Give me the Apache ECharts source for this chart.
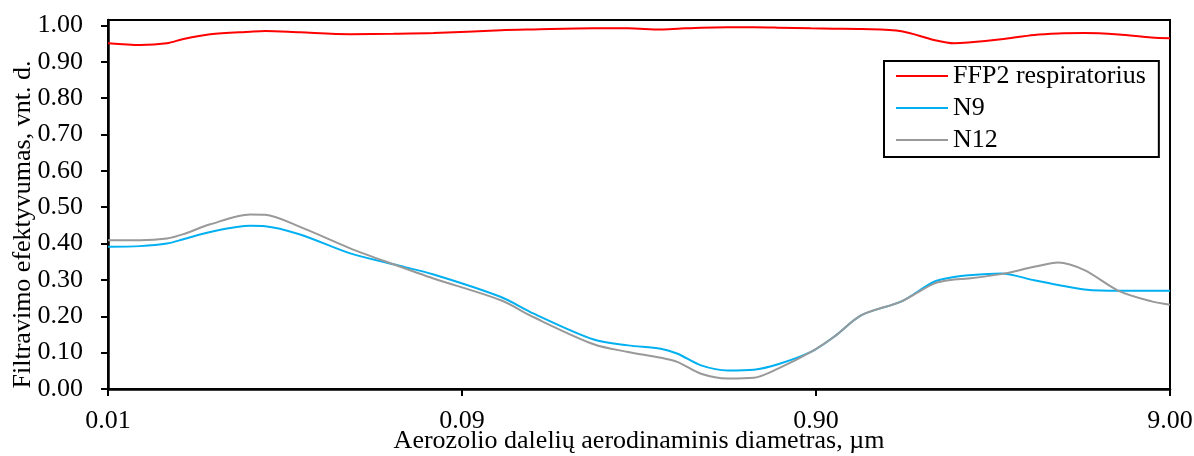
<!DOCTYPE html>
<html>
<head>
<meta charset="utf-8">
<title>Filtravimo efektyvumas</title>
<script src="https://cdn.jsdelivr.net/npm/echarts@6/dist/echarts.min.js"></script>
<style>
  html, body { margin: 0; padding: 0; background: #fff; }
  #chart { width: 1194px; height: 456px; }
</style>
</head>
<body>
<div id="chart"></div>
<script>
  "use strict";

  // aerozolio daleliu diametrai, um
  var diameters = [0.009, 0.0111, 0.0132, 0.0147, 0.0175, 0.0227, 0.025, 0.0314, 0.0435, 0.0576,
    0.0748, 0.116, 0.143, 0.212, 0.265, 0.328, 0.366, 0.426, 0.507, 0.601,
    0.703, 0.871, 1.01, 1.21, 1.57, 1.94, 2.21, 2.42, 3.00, 3.72,
    4.35, 5.16, 6.44, 7.98, 9.00];

  var ffp2 = [0.951, 0.946, 0.951, 0.963, 0.976, 0.983, 0.985, 0.981, 0.976, 0.977,
    0.979, 0.987, 0.989, 0.992, 0.992, 0.989, 0.991, 0.994, 0.995, 0.995,
    0.994, 0.992, 0.991, 0.990, 0.984, 0.960, 0.951, 0.953, 0.962, 0.974,
    0.978, 0.979, 0.975, 0.967, 0.965];

  var n9 = [0.391, 0.393, 0.400, 0.412, 0.432, 0.449, 0.448, 0.425, 0.373, 0.343,
    0.315, 0.253, 0.208, 0.136, 0.120, 0.111, 0.097, 0.065, 0.051, 0.053,
    0.068, 0.102, 0.143, 0.203, 0.241, 0.295, 0.308, 0.313, 0.318, 0.299,
    0.286, 0.274, 0.270, 0.270, 0.270];

  var n12 = [0.409, 0.409, 0.414, 0.426, 0.453, 0.480, 0.479, 0.446, 0.387, 0.343,
    0.304, 0.244, 0.198, 0.123, 0.102, 0.086, 0.074, 0.042, 0.029, 0.031,
    0.056, 0.102, 0.143, 0.203, 0.241, 0.290, 0.301, 0.304, 0.316, 0.336,
    0.348, 0.327, 0.270, 0.241, 0.232];

  var yTicks = [0, 0.1, 0.2, 0.3, 0.4, 0.5, 0.6, 0.7, 0.8, 0.9, 1.0];

  // x asis logaritmine nuo 0.009 (dekados)
  var xStart = 0.009;
  var font = "Liberation Serif";

  function toLog(d) {
    return Math.log10(d / xStart);
  }

  function pairs(values) {
    return diameters.map(function (d, i) {
      return [toLog(d), values[i]];
    });
  }

  function lineSeries(name, values, color) {
    return {
      name: name,
      type: "line",
      data: pairs(values),
      smooth: 0.3,
      symbol: "none",
      lineStyle: { color: color, width: 2 },
      itemStyle: { color: color }
    };
  }

  var chart = echarts.init(document.getElementById("chart"));

  var option = {
    animation: false,
    backgroundColor: "#fff",
    grid: {
      left: 108,
      right: 24,
      top: 20,
      bottom: 67,
      outerBoundsMode: "none",
      containLabel: false,
      show: true,
      borderColor: "#000",
      borderWidth: 2
    },
    legend: {
      orient: "vertical",
      left: 884,
      top: 61,
      padding: [2, 13, 4, 12],
      icon: "rect",
      itemWidth: 52,
      itemHeight: 2,
      itemGap: 6,
      borderColor: "#000",
      borderWidth: 2,
      backgroundColor: "#fff",
      textStyle: { fontFamily: font, fontSize: 26, color: "#000", lineHeight: 26 }
    },
    xAxis: {
      type: "value",
      min: 0,
      max: 3,
      interval: 1,
      name: "Aerozolio dalelių aerodinaminis diametras, µm",
      nameLocation: "middle",
      nameGap: 39,
      nameMoveOverlap: false,
      nameTextStyle: { fontFamily: font, fontSize: 26, color: "#000" },
      axisLine: { lineStyle: { color: "#000", width: 2.5 } },
      axisTick: { show: true, length: 7, lineStyle: { color: "#000", width: 2 } },
      axisLabel: {
        margin: 19,
        fontFamily: font,
        fontSize: 26,
        color: "#000",
        formatter: function (v) {
          return (xStart * Math.pow(10, v)).toFixed(2);
        }
      },
      splitLine: { show: false }
    },
    yAxis: {
      type: "value",
      min: 0,
      max: 1.015,
      name: "Filtravimo efektyvumas, vnt. d.",
      nameLocation: "middle",
      nameGap: 72,
      nameMoveOverlap: false,
      nameTextStyle: { fontFamily: font, fontSize: 26, color: "#000", padding: [0, 40, 0, 0] },
      axisLine: { show: true, lineStyle: { color: "#000", width: 2.5 } },
      axisTick: { show: true, length: 7, customValues: yTicks, lineStyle: { color: "#000", width: 2 } },
      axisLabel: {
        margin: 25,
        fontFamily: font,
        fontSize: 26,
        color: "#000",
        customValues: yTicks,
        formatter: function (v) {
          return v.toFixed(2);
        }
      },
      splitLine: { show: false }
    },
    series: [
      lineSeries("FFP2 respiratorius", ffp2, "#ff0000"),
      lineSeries("N9", n9, "#00b0f0"),
      lineSeries("N12", n12, "#999999")
    ]
  };

  chart.setOption(option);
</script>
</body>
</html>
